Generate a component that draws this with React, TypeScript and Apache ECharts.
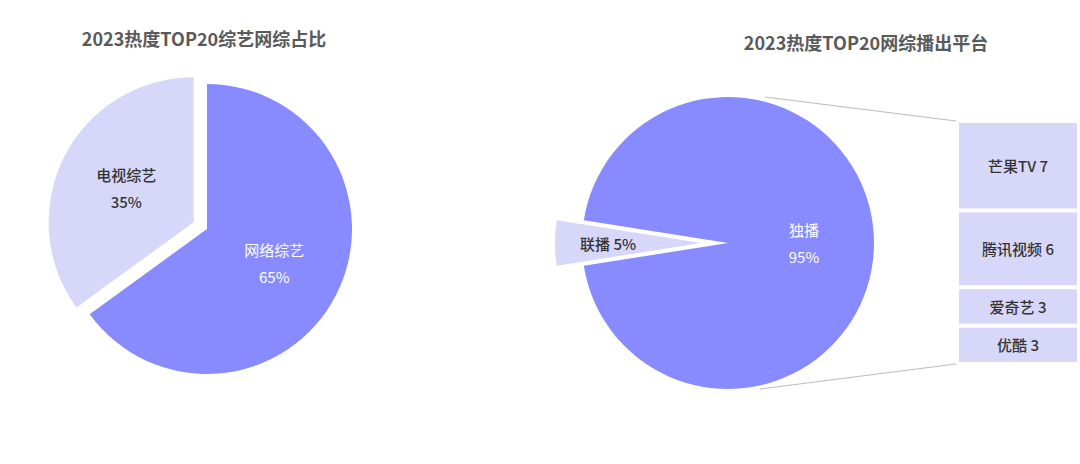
import React, { useEffect, useRef } from 'react';
import * as echarts from 'echarts';

// ---- data ----
const titles = ['2023热度TOP20综艺网综占比', '2023热度TOP20网综播出平台'];
const typeNames = ['网络综艺', '电视综艺'];
const typeShares = [65, 35];
const modeNames = ['独播', '联播'];
const modeShares = [95, 5];
const platformNames = ['芒果TV', '腾讯视频', '爱奇艺', '优酷'];
const platformCounts = [7, 6, 3, 3];

// ---- style / layout ----
const W = 1080;
const H = 464;
const DARK = '#888AFF';
const LIGHT = '#D7D7FA';
const FONT = '"Noto Sans CJK SC", "Noto Sans", sans-serif';
const PIE1 = { cx: 207, cy: 229, r: 145 };
const PIE2 = { cx: 728, cy: 243, r: 146 };
const BAR = { left: 957, right: 1, top: 121, bottom: 100 };

export default function App() {
  const ref = useRef<HTMLDivElement>(null);

  useEffect(() => {
    document.body.style.margin = '0';
    if (!ref.current) return;
    const chart = echarts.init(ref.current, undefined, { renderer: 'svg' });

    const total = platformCounts.reduce((a, b) => a + b, 0);
    const barTopY = BAR.top;
    const barBottomY = H - BAR.bottom;

    const barSeries = platformNames
      .map((name, i) => ({
        name,
        type: 'bar',
        stack: 'total',
        barWidth: '100%',
        data: [platformCounts[i]],
        itemStyle: { color: LIGHT, borderColor: '#fff', borderWidth: 2 },
        label: {
          show: true,
          position: 'inside',
          formatter: '{a} {c}',
          color: '#333',
          fontSize: 15,
          fontWeight: 500,
          fontFamily: FONT,
        },
        emphasis: { disabled: true },
      }))
      .reverse();

    const option: any = {
      animation: false,
      title: [
        {
          text: titles[0],
          left: 204,
          top: 29,
          textAlign: 'center',
          padding: 0,
          textStyle: { fontSize: 18, fontWeight: 'bold', color: '#5a5a5a', fontFamily: FONT },
        },
        {
          text: titles[1],
          left: 866,
          top: 33,
          textAlign: 'center',
          padding: 0,
          textStyle: { fontSize: 18, fontWeight: 'bold', color: '#5a5a5a', fontFamily: FONT },
        },
      ],
      grid: { left: BAR.left, right: BAR.right, top: BAR.top, bottom: BAR.bottom },
      xAxis: { type: 'category', data: [''], show: false },
      yAxis: { type: 'value', min: 0, max: total, show: false },
      series: [
        {
          type: 'pie',
          center: [PIE1.cx, PIE1.cy],
          radius: PIE1.r,
          startAngle: 90,
          clockwise: true,
          selectedMode: 'single',
          selectedOffset: 15,
          emphasis: { disabled: true },
          labelLine: { show: false },
          label: {
            position: 'inside',
            formatter: '{b}\n{d}%',
            fontSize: 15,
            lineHeight: 27,
            fontFamily: FONT,
          },
          data: typeNames.map((n, i) => ({
            name: n,
            value: typeShares[i],
            selected: i === 1,
            itemStyle: { color: i === 0 ? DARK : LIGHT },
            select: { itemStyle: { color: i === 0 ? DARK : LIGHT } },
            label: i === 0 ? { color: '#fff', fontWeight: 'normal' } : { color: '#333', fontWeight: 500 },
          })),
        },
        {
          type: 'pie',
          center: [PIE2.cx, PIE2.cy],
          radius: PIE2.r,
          startAngle: 171,
          clockwise: true,
          selectedMode: 'single',
          selectedOffset: 27,
          emphasis: { disabled: true },
          labelLine: { show: false },
          label: {
            position: 'inside',
            formatter: '{b}\n{d}%',
            fontSize: 15,
            lineHeight: 27,
            fontFamily: FONT,
          },
          data: modeNames.map((n, i) => ({
            name: n,
            value: modeShares[i],
            selected: i === 1,
            itemStyle: { color: i === 0 ? DARK : LIGHT },
            select: { itemStyle: { color: i === 0 ? DARK : LIGHT } },
            label:
              i === 0
                ? { color: '#fff', fontWeight: 'normal' }
                : {
                    color: '#333',
                    fontWeight: 500,
                    formatter: '{b} {d}%',
                    padding: [0, 34, 0, 0],
                  },
          })),
        },
        ...barSeries,
      ],
      graphic: [
        {
          type: 'line',
          silent: true,
          shape: {
            x1: PIE2.cx + 37,
            y1: PIE2.cy - PIE2.r,
            x2: BAR.left - 1,
            y2: barTopY,
          },
          style: { stroke: '#BBBBBB', lineWidth: 1 },
        },
        {
          type: 'line',
          silent: true,
          shape: {
            x1: PIE2.cx + 32,
            y1: PIE2.cy + PIE2.r,
            x2: BAR.left - 1,
            y2: barBottomY,
          },
          style: { stroke: '#BBBBBB', lineWidth: 1 },
        },
      ],
    };

    chart.setOption(option);
    return () => chart.dispose();
  }, []);

  return <div ref={ref} style={{ width: W, height: H }} />;
}
